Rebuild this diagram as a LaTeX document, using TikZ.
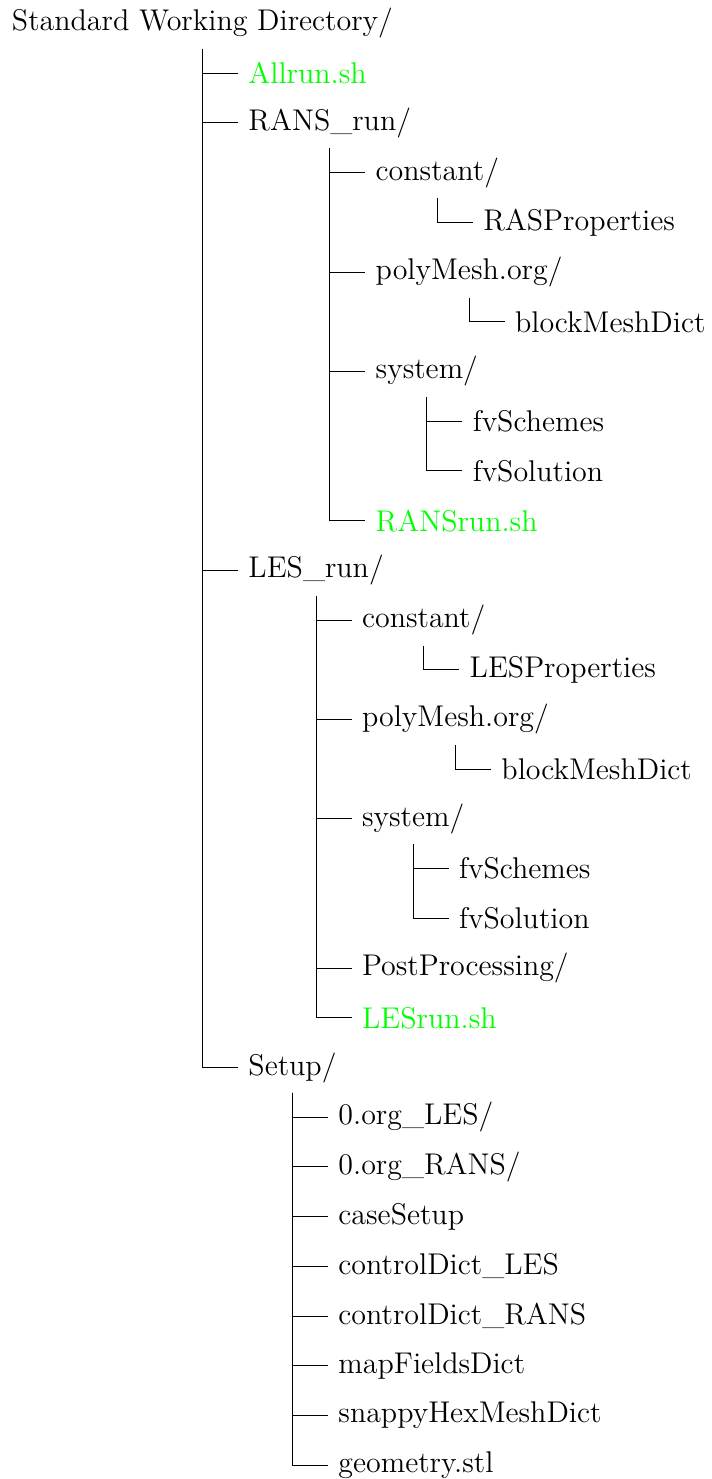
\documentclass[tikz,border=0pt,12pt]{standalone}
\usepackage{tikz}
\usetikzlibrary{calc}

\begin{document}
\begin{tikzpicture}[entry/.style={anchor=west},
    script/.style={anchor=west, text=green}]
  \node[entry] (root) at (0,0) {Standard Working Directory/};
  \node[script] (allrun) at ($(root.center)+(0.5,-0.7)$) {Allrun.sh};
  \node[entry] (rans) at ($(root.center)+(0.5,-1.4)$) {RANS\_run/};
  \node[entry] (les) at ($(root.center)+(0.5,-7.7)$) {LES\_run/};
  \node[entry] (setup) at ($(root.center)+(0.5,-14.7)$) {Setup/};

  \node[entry] (rconst) at ($(rans.center)+(0.5,-0.7)$) {constant/};
  \node[entry] (rasprop) at ($(rconst.center)+(0.5,-0.7)$) {RASProperties};
  \node[entry] (rpoly) at ($(rans.center)+(0.5,-2.1)$) {polyMesh.org/};
  \node[entry] (rblock) at ($(rpoly.center)+(0.5,-0.7)$) {blockMeshDict};
  \node[entry] (rsys) at ($(rans.center)+(0.5,-3.5)$) {system/};
  \node[entry] (rschemes) at ($(rsys.center)+(0.5,-0.7)$) {fvSchemes};
  \node[entry] (rsolution) at ($(rsys.center)+(0.5,-1.4)$) {fvSolution};
  \node[script] (ransrun) at ($(rans.center)+(0.5,-5.6)$) {RANSrun.sh};

  \node[entry] (lconst) at ($(les.center)+(0.5,-0.7)$) {constant/};
  \node[entry] (lesprop) at ($(lconst.center)+(0.5,-0.7)$) {LESProperties};
  \node[entry] (lpoly) at ($(les.center)+(0.5,-2.1)$) {polyMesh.org/};
  \node[entry] (lblock) at ($(lpoly.center)+(0.5,-0.7)$) {blockMeshDict};
  \node[entry] (lsys) at ($(les.center)+(0.5,-3.5)$) {system/};
  \node[entry] (lschemes) at ($(lsys.center)+(0.5,-0.7)$) {fvSchemes};
  \node[entry] (lsolution) at ($(lsys.center)+(0.5,-1.4)$) {fvSolution};
  \node[entry] (lpost) at ($(les.center)+(0.5,-5.6)$) {PostProcessing/};
  \node[script] (lesrun) at ($(les.center)+(0.5,-6.3)$) {LESrun.sh};

  \node[entry] (s1) at ($(setup.center)+(0.5,-0.7)$) {0.org\_LES/};
  \node[entry] (s2) at ($(setup.center)+(0.5,-1.4)$) {0.org\_RANS/};
  \node[entry] (s3) at ($(setup.center)+(0.5,-2.1)$) {caseSetup};
  \node[entry] (s4) at ($(setup.center)+(0.5,-2.8)$) {controlDict\_LES};
  \node[entry] (s5) at ($(setup.center)+(0.5,-3.5)$) {controlDict\_RANS};
  \node[entry] (s6) at ($(setup.center)+(0.5,-4.2)$) {mapFieldsDict};
  \node[entry] (s7) at ($(setup.center)+(0.5,-4.9)$) {snappyHexMeshDict};
  \node[entry] (s8) at ($(setup.center)+(0.5,-5.6)$) {geometry.stl};

  \foreach \kid in {allrun,rans,les,setup}
    \draw (root.south) |- (\kid.west);
  \foreach \kid in {rconst,rpoly,rsys,ransrun}
    \draw (rans.south) |- (\kid.west);
  \foreach \kid in {lconst,lpoly,lsys,lpost,lesrun}
    \draw (les.south) |- (\kid.west);
  \foreach \kid in {s1,s2,s3,s4,s5,s6,s7,s8}
    \draw (setup.south) |- (\kid.west);
  \draw (rconst.south) |- (rasprop.west);
  \draw (rpoly.south) |- (rblock.west);
  \draw (rsys.south) |- (rschemes.west);
  \draw (rsys.south) |- (rsolution.west);
  \draw (lconst.south) |- (lesprop.west);
  \draw (lpoly.south) |- (lblock.west);
  \draw (lsys.south) |- (lschemes.west);
  \draw (lsys.south) |- (lsolution.west);

  \pgfresetboundingbox
  \useasboundingbox ($(root.north west)+(-0.6pt,-0.8pt)$) rectangle ++(284.9pt,-592.5pt);
\end{tikzpicture}
\end{document}
